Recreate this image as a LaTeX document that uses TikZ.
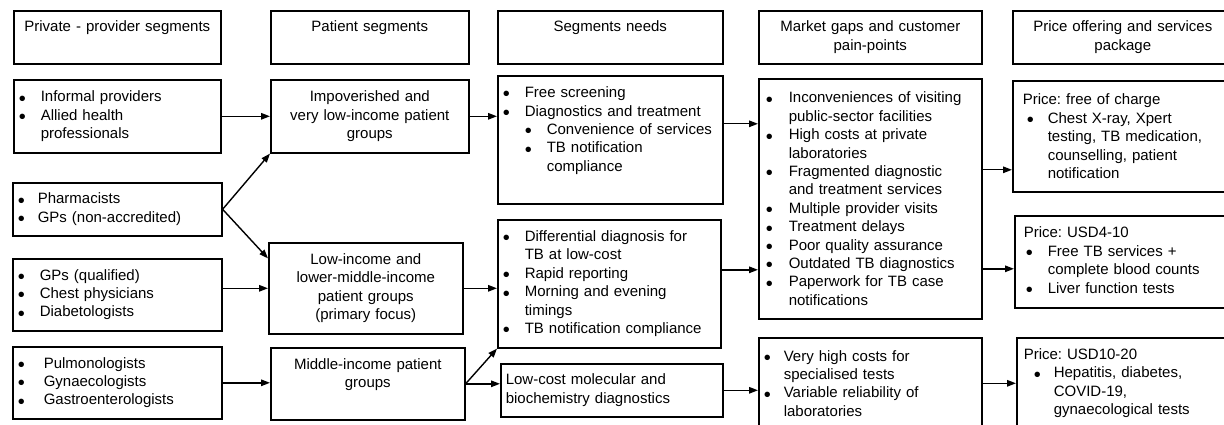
\documentclass[tikz,border=0pt]{standalone}
\usepackage{fontspec}
\setmainfont{Liberation Sans}
\usetikzlibrary{arrows.meta, positioning, calc}

\newlength{\bulw}
\setlength{\bulw}{22pt}
% bullet item with hanging indent (optional arg = extra left indent)
\newcommand{\bul}[2][0pt]{\noindent\hangindent=\dimexpr#1+\bulw\relax\hangafter=1%
  \hspace*{#1}\makebox[\bulw][l]{\raisebox{-3.3pt}{\fontsize{20pt}{20pt}\selectfont\textbullet}}#2\par}

\begin{document}
\begin{tikzpicture}[
    x=1pt, y=-1pt,
    box/.style 2 args={draw, line width=1.6pt, anchor=north west, minimum width=#1, minimum height=#2,
        text width=#1-10pt, inner xsep=5pt, inner ysep=0pt, align=left,
        font=\fontsize{15pt}{18.4pt}\selectfont\frenchspacing},
    ctr/.style={align=center},
    padbottom/.style={text depth=#1},
    arrow/.style={-{Triangle[length=9pt, width=6.5pt]}, line width=1.4pt}
]
\useasboundingbox (0,0) rectangle (1224,425);
\clip (0,0) rectangle (1224,425);

% Column headers
\node[box={207}{53}, ctr, padbottom=21.6pt] (hprov) at (13,10) {Private - provider segments};
\node[box={198}{53}, ctr, padbottom=21.6pt] (hpat) at (270,10) {Patient segments};
\node[box={225}{53}, ctr, padbottom=21.6pt] (hneed) at (497,10) {Segments needs};
\node[box={223}{53}, ctr] (hgap) at (758,10) {Market gaps and customer\\pain-points};
\node[box={220}{53}, ctr] (hprice) at (1012,10) {Price offering and services\\package};

% Provider segments
\node[box={207}{73}] (prov1) at (13,79) {\bul{Informal providers}\bul{Allied health\newline professionals}};
\node[box={209}{53}] (prov2) at (12,182) {\setlength{\bulw}{20pt}\bul{Pharmacists}\bul{GPs (non-accredited)}};
\node[box={209}{72}] (prov3) at (12,258) {\bul{GPs (qualified)}\bul{Chest physicians}\bul{Diabetologists}};
\node[box={209}{72}] (prov4) at (12,346) {\setlength{\bulw}{26pt}\bul{Pulmonologists}\bul{Gynaecologists}\bul{Gastroenterologists}};

% Patient segments
\node[box={198}{73}, ctr] (pat1) at (270,79) {Impoverished and\\very low-income patient\\groups};
\node[box={194}{91}, ctr] (pat2) at (268,242) {Low-income and\\lower-middle-income\\patient groups\\(primary focus)};
\node[box={194}{72}, ctr, padbottom=40pt] (pat3) at (270,347) {Middle-income patient\\groups};

% Segment needs
\node[box={225}{128}, padbottom=95.2pt] (need1) at (497,75) {\bul{Free screening}\bul{Diagnostics and treatment}%
  \bul[\bulw]{Convenience~of~services}\bul[\bulw]{TB notification\newline compliance}};
\node[box={223}{128}] (need2) at (497,219) {\bul{Differential diagnosis for\newline TB at low-cost}\bul{Rapid reporting}%
  \bul{Morning and evening\newline timings}\bul{TB notification compliance}};
\node[box={222}{53}] (need3) at (500,363) {\setlength{\leftskip}{3pt}Low-cost molecular and\newline biochemistry diagnostics};

% Market gaps
\node[box={223}{240}] (gap1) at (758,78) {\setlength{\bulw}{23pt}%
  \bul[2pt]{Inconveniences of visiting\newline public-sector facilities}\bul[2pt]{High costs at private\newline laboratories}%
  \bul[2pt]{Fragmented diagnostic\newline and treatment services}\bul[2pt]{Multiple provider visits}%
  \bul[2pt]{Treatment delays}\bul[2pt]{Poor quality assurance}\bul[2pt]{Outdated TB diagnostics}%
  \bul[2pt]{Paperwork for TB case\newline notifications}};
\node[box={223}{91}] (gap2) at (758,337) {\setlength{\bulw}{20pt}%
  \bul{Very high costs for\newline specialised tests}\bul{Variable reliability of\newline laboratories}};

% Price offering
\node[box={220}{111}] (price1) at (1012,80) {\setlength{\leftskip}{5pt}\setlength{\bulw}{21pt}Price: free of charge\par
  \bul[4pt]{Chest X-ray, Xpert\newline testing, TB medication,\newline counselling, patient\newline notification}};
\node[box={220}{92}] (price2) at (1014,215) {\setlength{\leftskip}{4pt}Price: USD4-10\par
  \bul[2pt]{Free TB services +\newline complete blood counts}\bul[2pt]{Liver function tests}};
\node[box={220}{91}] (price3) at (1016,337) {\setlength{\leftskip}{2pt}\setlength{\bulw}{20pt}Price: USD10-20\par
  \bul[10pt]{Hepatitis, diabetes,\newline COVID-19,\newline gynaecological tests}};

% Arrows: providers to patients
\draw[arrow] (prov1) -- (pat1);
\draw[arrow] (prov2.east) -- (pat1.south west);
\draw[arrow] (prov2.east) -- (pat2.163);
\draw[arrow] (prov3.east |- pat2.west) -- (pat2.west);
\draw[arrow] (prov4.east) -- (prov4.east -| pat3.west);

% Arrows: patients to needs
\draw[arrow] (pat1.east) -- (pat1.east -| need1.west);
\draw[arrow] (pat2.east) -- (pat2.east -| need2.west);
\draw[arrow] (pat3.east) -- (need2.south west);
\draw[arrow] (pat3.east) -- (pat3.east -| need3.west);

% Arrows: needs to gaps
\coordinate (n1out) at ([yshift=16pt]need1.east);
\coordinate (n2out) at ([yshift=14pt]need2.east);
\draw[arrow] (n1out) -- (n1out -| gap1.west);
\draw[arrow] (n2out) -- (n2out -| gap1.west);
\draw[arrow] (need3.east) -- (need3.east -| gap2.west);

% Arrows: gaps to prices
\coordinate (p1in) at ([yshift=-33.5pt]price1.west);
\coordinate (p2in) at ([yshift=-7pt]price2.west);
\draw[arrow] (gap1.east |- p1in) -- (p1in);
\draw[arrow] (gap1.east |- p2in) -- (p2in);
\draw[arrow] (gap2.east |- price3.west) -- (price3.west);

\end{tikzpicture}
\end{document}
